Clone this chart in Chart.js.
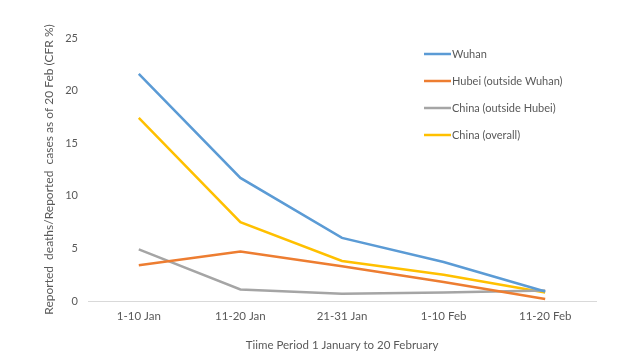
<!DOCTYPE html>
<html>
<head>
<meta charset="utf-8">
<script src="https://cdn.jsdelivr.net/npm/chart.js@4/dist/chart.umd.min.js"></script>
<style>
html,body{margin:0;padding:0;background:#fff;}
#wrap{width:640px;height:360px;position:relative;}
</style>
</head>
<body>
<div id="wrap"><canvas id="c" width="640" height="360"></canvas></div>
<script>
const categories = ['1-10 Jan', '11-20 Jan', '21-31 Jan', '1-10 Feb', '11-20 Feb'];
const seriesNames = ['Wuhan', 'Hubei (outside Wuhan)', 'China (outside Hubei)', 'China (overall)'];
const wuhan = [21.6, 11.7, 6.0, 3.7, 0.9];
const hubeiOutsideWuhan = [3.4, 4.7, 3.3, 1.8, 0.2];
const chinaOutsideHubei = [4.9, 1.1, 0.7, 0.8, 1.0];
const chinaOverall = [17.4, 7.5, 3.8, 2.5, 0.8];
const yTicks = [0, 5, 10, 15, 20, 25];
const colors = ['#5B9BD5', '#ED7D31', '#A5A5A5', '#FFC000'];
const yTitle = 'Reported  deaths/Reported  cases as of 20 Feb (CFR %)';
const xTitle = 'Tiime Period 1 January to 20 February';

const FONT = 'Lato, "Open Sans", sans-serif';
const TXT = '#595959';

const legendPlugin = {
  id: 'customLegend',
  afterDraw(chart) {
    const ctx = chart.ctx;
    ctx.save();
    ctx.font = '11px ' + FONT;
    ctx.textBaseline = 'middle';
    ctx.textAlign = 'left';
    chart.data.datasets.forEach((ds, i) => {
      const y = 54 + i * 27;
      ctx.strokeStyle = ds.borderColor;
      ctx.lineWidth = 2.5;
      ctx.beginPath();
      ctx.moveTo(424, y);
      ctx.lineTo(451, y);
      ctx.stroke();
      ctx.fillStyle = TXT;
      ctx.fillText(ds.label, 452, y);
    });
    ctx.restore();
  }
};

const allSeries = [wuhan, hubeiOutsideWuhan, chinaOutsideHubei, chinaOverall];

new Chart(document.getElementById('c'), {
  type: 'line',
  data: {
    labels: categories,
    datasets: allSeries.map((d, i) => ({
      label: seriesNames[i],
      data: d,
      borderColor: colors[i],
      backgroundColor: colors[i],
      borderWidth: 2.5,
      pointRadius: 0,
      tension: 0,
      fill: false
    }))
  },
  options: {
    responsive: false,
    animation: false,
    layout: { padding: { left: 38, right: 44, top: 38, bottom: 0 } },
    plugins: { legend: { display: false }, tooltip: { enabled: false } },
    scales: {
      x: {
        offset: true,
        grid: { display: false, drawTicks: false },
        border: { display: true, color: '#d9d9d9', width: 1 },
        ticks: { color: TXT, font: { family: FONT, size: 11.5 }, padding: 8, maxRotation: 0 },
        title: { display: true, text: xTitle, color: TXT, font: { family: FONT, size: 11.5 }, padding: { top: 10, bottom: 8 } },
        afterFit(s) { s.height = 59; }
      },
      y: {
        min: 0, max: 25,
        afterBuildTicks(s) { s.ticks = yTicks.map(v => ({ value: v })); },
        grid: { display: false, drawTicks: false },
        border: { display: false },
        ticks: { color: TXT, font: { family: FONT, size: 11 }, padding: 10 },
        title: { display: true, text: yTitle, color: TXT, font: { family: FONT, size: 12 }, padding: { top: 4, bottom: 0 } },
        afterFit(s) { s.width = 50; }
      }
    }
  },
  plugins: [legendPlugin]
});
</script>
</body>
</html>
